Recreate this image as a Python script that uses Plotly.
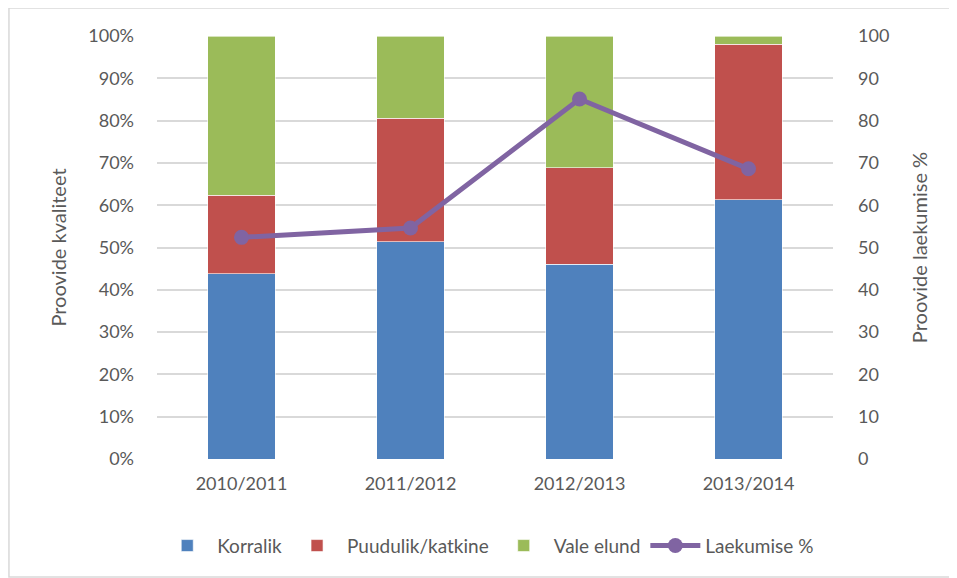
import plotly.graph_objects as go

categories = ["2010/2011", "2011/2012", "2012/2013", "2013/2014"]
korralik = [0.438, 0.514, 0.461, 0.613]
puudulik = [0.185, 0.292, 0.227, 0.368]
vale = [0.377, 0.194, 0.312, 0.019]
laekumine = [52.4, 54.6, 85.1, 68.6]

FONT = "Lato, Open Sans, sans-serif"
TXT = "#595959"

fig = go.Figure()
for name, vals, col in [("Korralik", korralik, "#4F81BD"),
                        ("Puudulik/katkine", puudulik, "#C0504D"),
                        ("Vale elund", vale, "#9BBB59")]:
    fig.add_trace(go.Bar(x=categories, y=vals, name=name, marker_color=col,
                         marker_line=dict(color="rgba(255,255,255,0.6)", width=1),
                         width=0.4, yaxis="y"))
fig.add_trace(go.Scatter(x=categories, y=laekumine, name="Laekumise %", mode="lines+markers",
                         line=dict(color="#8064A2", width=5),
                         marker=dict(size=15, color="#8064A2"), yaxis="y2"))

fig.update_layout(
    width=949, height=570,
    margin=dict(l=149, r=124, t=28, b=119),
    barmode="stack",
    paper_bgcolor="white", plot_bgcolor="white",
    font=dict(family=FONT, color=TXT, size=18),
    showlegend=True,
    legend=dict(orientation="h", x=0.49, xanchor="center", y=-0.205, yanchor="middle",
                font=dict(size=19, color=TXT), traceorder="normal", itemwidth=50),
    xaxis=dict(showgrid=False, showline=False, ticks="", tickfont=dict(size=18),
               ticklabelstandoff=12),
    yaxis=dict(range=[0, 1], dtick=0.1, tickformat=".0%", showgrid=True,
               gridcolor="#D9D9D9", gridwidth=2, zeroline=False, showline=False,
               ticklabelstandoff=22, tickfont=dict(size=18),
               title=dict(text="Proovide kvaliteet", font=dict(size=20, color=TXT), standoff=16)),
    yaxis2=dict(range=[0, 100], dtick=10, overlaying="y", side="right", showgrid=False,
                zeroline=False, showline=False, ticklabelstandoff=24, tickfont=dict(size=18),
                title=dict(text="Proovide laekumise %", font=dict(size=20, color=TXT), standoff=24)),
    shapes=[dict(type="rect", xref="paper", yref="paper",
                 x0=-0.219, x1=1.173, y0=-0.279, y1=1.066,
                 line=dict(color="#D9D9D9", width=1.5), fillcolor="rgba(0,0,0,0)", layer="below")],
)

fig.write_html("out.html")
